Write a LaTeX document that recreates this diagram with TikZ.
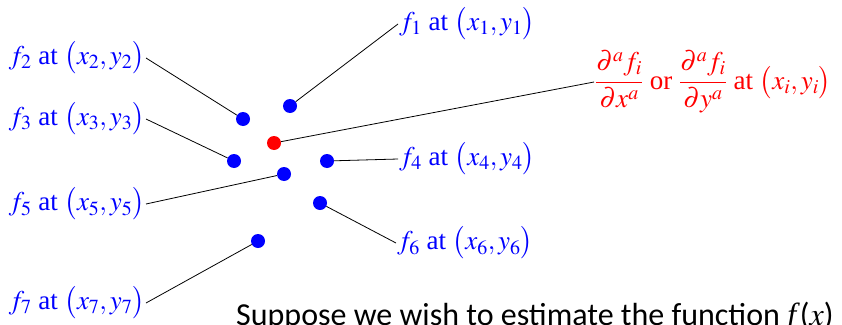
\documentclass[tikz,border=0pt]{standalone}
\usepackage{amsmath}
\usepackage{mathptmx}
\usepackage{fontspec}
\newfontfamily\timesfont{Liberation Serif}
\newfontfamily\slidefont{Carlito}
\usepackage{tikz}
\usepackage{xcolor}
\definecolor{sample}{RGB}{0,0,255}
\definecolor{target}{RGB}{255,0,0}

\tikzset{
    pt/.style = {circle, fill = sample, inner sep = 0pt, minimum size = 14pt},
    lbl/.style = {text = sample, font = \timesfont\fontsize{27}{32}\selectfont, inner sep = 1pt},
    lead/.style = {draw = black, line width = 0.8pt}
}

\begin{document}
\begin{tikzpicture}[x = 1pt, y = -1pt]
            \useasboundingbox (0,0) rectangle (842,324);
            % sample points
            \node[pt] (p1) at (290,106) {};
            \node[pt] (p2) at (243,119) {};
            \node[pt] (p3) at (234,161) {};
            \node[pt] (p4) at (327,161) {};
            \node[pt] (p5) at (284,174) {};
            \node[pt] (p6) at (320,203) {};
            \node[pt] (p7) at (258,241) {};
            \node[pt, fill = target] (pi) at (274,143) {};
            % labels
            \node[lbl, anchor = west] (l1) at (398,24) {$f_1$ at $\bigl(x_1,y_1\bigr)$};
            \node[lbl, anchor = east] (l2) at (146,58) {$f_2$ at $\bigl(x_2,y_2\bigr)$};
            \node[lbl, anchor = east] (l3) at (146,119) {$f_3$ at $\bigl(x_3,y_3\bigr)$};
            \node[lbl, anchor = west] (l4) at (398,159) {$f_4$ at $\bigl(x_4,y_4\bigr)$};
            \node[lbl, anchor = east] (l5) at (146,204) {$f_5$ at $\bigl(x_5,y_5\bigr)$};
            \node[lbl, anchor = west] (l6) at (396,243) {$f_6$ at $\bigl(x_6,y_6\bigr)$};
            \node[lbl, anchor = east] (l7) at (146,303) {$f_7$ at $\bigl(x_7,y_7\bigr)$};
            \node[lbl, text = target, anchor = west] (li) at (594,82)
                {$\dfrac{\partial^a f_i}{\partial x^a}$ or $\dfrac{\partial^a f_i}{\partial y^a}$ at $\bigl(x_i,y_i\bigr)$};
            % leader lines
            \draw[lead] (l1.west) -- (p1);
            \draw[lead] (l2.east) -- (p2);
            \draw[lead] (l3.east) -- (p3);
            \draw[lead] (p4) -- (l4.west);
            \draw[lead] (l5.east) -- (p5);
            \draw[lead] (p6) -- (l6.west);
            \draw[lead] (l7.east) -- (p7);
            \draw[lead] (pi) -- (li.west);
            % slide text, cut by the page edge
            \node[anchor = base west, inner sep = 0pt, font = \slidefont\fontsize{32}{38}\selectfont] (note) at (236,325)
                {Suppose we wish to estimate the function \textit{\timesfont f}($x$)};
        \end{tikzpicture}
\end{document}
